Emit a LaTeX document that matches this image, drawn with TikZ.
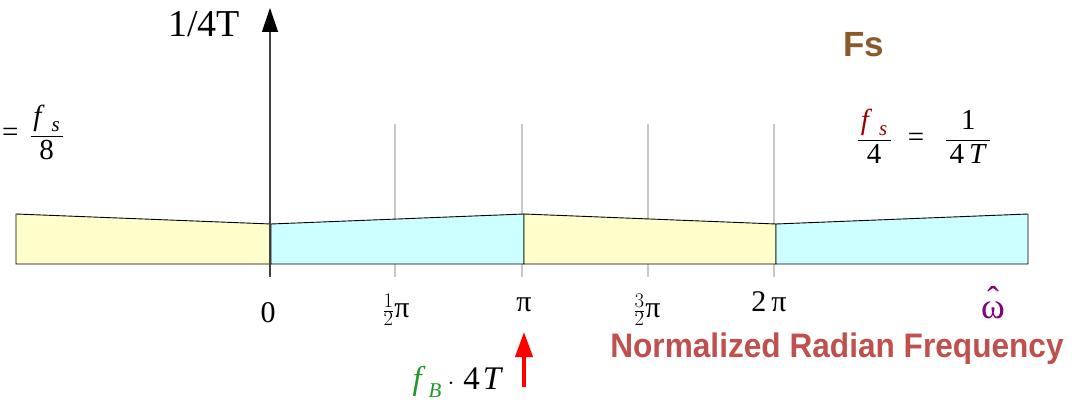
\documentclass[tikz,border=0pt]{standalone}
\usepackage{fontspec}
\setmainfont{Liberation Serif}
\setsansfont{Liberation Sans}
\newfontfamily\titlesans[FakeStretch=0.93]{Liberation Sans}
\usepackage{xcolor}
\definecolor{bandyellow}{HTML}{FFFFCC}
\definecolor{bandcyan}{HTML}{CCFFFF}
\definecolor{guidegray}{HTML}{C8C8C8}
\definecolor{axisgray}{HTML}{404040}
\definecolor{fsbrown}{HTML}{8B5A2B}
\definecolor{fsred}{HTML}{990000}
\definecolor{fbgreen}{HTML}{22962A}
\definecolor{omegapurple}{HTML}{800080}
\definecolor{titlered}{HTML}{C0504D}
\usepackage{tikz}
\usetikzlibrary{arrows.meta}
% italic subscript in text fonts
\newcommand{\lowsub}[1]{\raisebox{-0.22em}{\fontsize{21}{21}\selectfont\textit{#1}}}

\begin{document}
\begin{tikzpicture}[x=1pt, y=-1pt,
  band/.style={draw=black, line width=0.9pt},
  guide/.style={draw=guidegray, line width=1.3pt},
  ticklab/.style={anchor=base, inner sep=0pt, font=\fontsize{30}{32}\selectfont},
  formula/.style={inner sep=0pt, font=\fontsize{29}{32}\selectfont},
  arrow/.style={-{Triangle[length=24pt, width=16pt, color=black]}}
]
  \useasboundingbox (0,0) rectangle (1084,403);

  % guide lines behind the bands
  \foreach \x in {395,522,648,774} {
    \draw[guide] (\x,124) -- (\x,277);
  }

  % frequency bands
  \foreach \xa/\xb/\ya/\yb/\col in {16/271/214/224/bandyellow, 271/524/224/214/bandcyan,
                                    524/776/214/224/bandyellow, 776/1028/224/214/bandcyan} {
    \filldraw[band, fill=\col] (\xa,264) -- (\xa,\ya) -- (\xb,\yb) -- (\xb,264) -- cycle;
  }

  % vertical axis
  \coordinate (axbot) at (270,277);
  \coordinate (axtop) at (270,8);
  \draw[arrow, color=axisgray, line width=1.2pt] (axbot) -- (axtop);
  \node[inner sep=0pt, font=\fontsize{38}{40}\selectfont] (ylab) at (204,24) {1/4T};

  % tick labels
  \node[ticklab] (t0) at (268,322) {0};
  \node[ticklab] (t1) at (396,317) {$\frac{1}{2}$π};
  \node[ticklab] (t2) at (524,312) {π};
  \node[ticklab] (t3) at (647,317) {$\frac{3}{2}$π};
  \node[ticklab] (t4) at (769,312) {2\,π};
  \node[ticklab, font=\fontsize{36}{38}\selectfont, text=omegapurple] (omega) at (993,318)
    {\ooalign{ω\cr\hidewidth\raisebox{6pt}{ˆ}\hidewidth\cr}};

  % titles and formulas
  \node[font=\fontsize{35}{38}\selectfont\sffamily\bfseries, text=fsbrown] (fs) at (864,45) {Fs};
  \node[anchor=base, font=\fontsize{34}{36}\selectfont\titlesans\bfseries, text=titlered] (title)
    at (837,357) {Normalized Radian Frequency};
  \node[formula, anchor=east] (eighth) at (64,132)
    {$\mbox{=}\hspace{11pt}\displaystyle
      \frac{\makebox[32pt]{\textit{f}\hspace{7pt}\lowsub{s}}}{\mbox{8}}$};
  \node[formula] (quarter) at (924,136)
    {$\displaystyle\frac{\makebox[33pt]{\color{fsred}\textit{f}\hspace{7pt}\lowsub{s}}}{\mbox{4}}
      \hspace{16pt}\mbox{=}\hspace{21pt}
      \frac{\mbox{1}}{\makebox[44pt]{4\hspace{5pt}\textit{T}}}$};
  \node[inner sep=0pt, font=\fontsize{33}{35}\selectfont] (fb) at (458,382)
    {\textcolor{fbgreen}{\textit{f}\hspace{3pt}\lowsub{B}}\hspace{6pt}$\cdot$\hspace{9pt}4\hspace{3pt}\textit{T}};

  % marker at pi
  \coordinate (fbtail) at (524,387);
  \coordinate (fbtip) at (524,332);
  \draw[-{Triangle[length=25pt, width=17pt]}, color=red, line width=4pt] (fbtail) -- (fbtip);
\end{tikzpicture}
\end{document}
